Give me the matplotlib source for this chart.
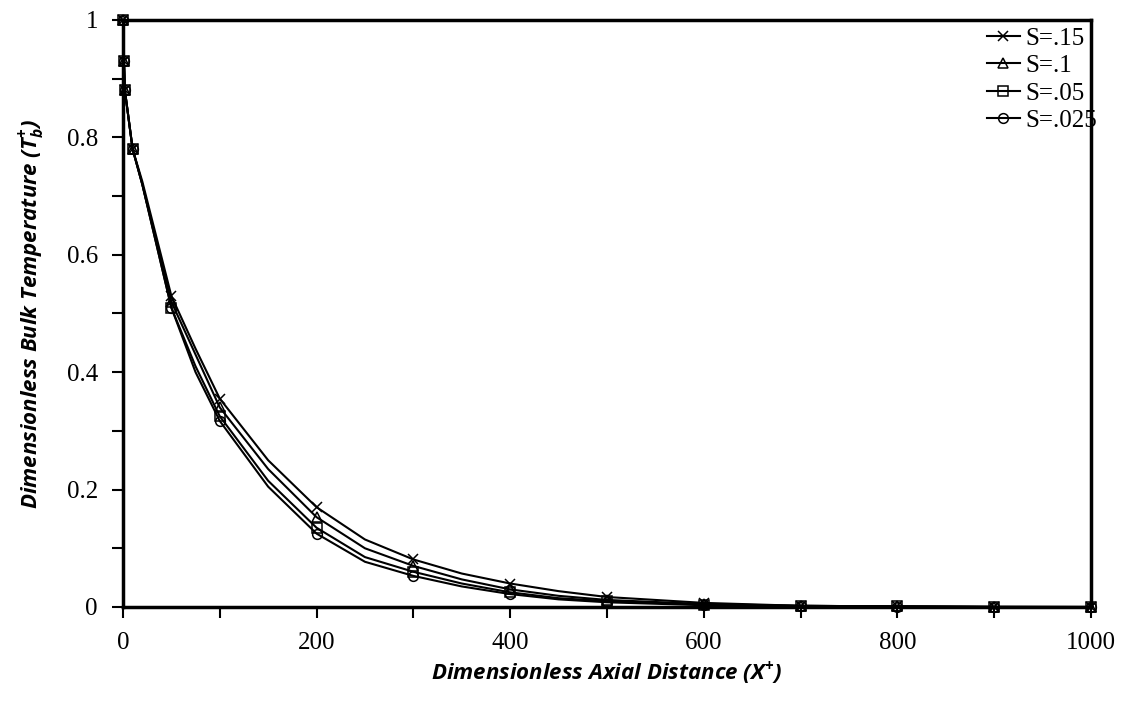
import numpy as np
import matplotlib.pyplot as plt
from matplotlib.ticker import MultipleLocator, FuncFormatter

# axial positions (every point is drawn on the line, markers only on some)
x = [0, 1, 2, 10, 20, 50, 75, 100, 150, 200, 250, 300, 350, 400, 450,
     500, 600, 700, 800, 900, 1000]
marked = [0, 1, 2, 3, 5, 7, 9, 11, 13, 15, 16, 17, 18, 19, 20]

tb_015 = [1.0, 0.93, 0.88, 0.78, 0.725, 0.53, 0.44, 0.355, 0.25, 0.17, 0.115,
          0.081, 0.057, 0.040, 0.027, 0.017, 0.007, 0.002, 0.001, 0.0005, 0.0]
tb_010 = [1.0, 0.93, 0.88, 0.78, 0.72, 0.52, 0.43, 0.34, 0.235, 0.153, 0.10,
          0.070, 0.047, 0.030, 0.019, 0.012, 0.005, 0.002, 0.001, 0.0, 0.0]
tb_005 = [1.0, 0.93, 0.88, 0.78, 0.72, 0.51, 0.41, 0.325, 0.215, 0.135, 0.085,
          0.060, 0.040, 0.025, 0.015, 0.010, 0.004, 0.002, 0.001, 0.0, 0.0]
tb_0025 = [1.0, 0.93, 0.88, 0.78, 0.72, 0.51, 0.40, 0.317, 0.205, 0.125, 0.077,
           0.053, 0.035, 0.022, 0.013, 0.008, 0.003, 0.001, 0.0005, 0.0, 0.0]

series = [("S=.15", tb_015, "x"), ("S=.1", tb_010, "^"),
          ("S=.05", tb_005, "s"), ("S=.025", tb_0025, "o")]

plt.rcParams['mathtext.fontset'] = 'custom'
plt.rcParams['mathtext.rm'] = 'Open Sans:italic:bold'
plt.rcParams['mathtext.it'] = 'Open Sans:italic:bold'
plt.rcParams['mathtext.bf'] = 'Open Sans:italic:bold'

fig = plt.figure(figsize=(11.3, 7.04), dpi=100)
ax = fig.add_axes([0.1088, 0.1378, 0.8567, 0.8338])

for name, y, m in series:
    ax.plot(x, y, color='black', lw=1.5, marker=m, markevery=marked,
            markersize=7, markerfacecolor='none', markeredgecolor='black',
            markeredgewidth=1.1, label=name, clip_on=False)

ax.set_xlim(0, 1000)
ax.set_ylim(0, 1)
ax.xaxis.set_major_locator(MultipleLocator(200))
ax.xaxis.set_minor_locator(MultipleLocator(100))
ax.yaxis.set_major_locator(MultipleLocator(0.2))
ax.yaxis.set_minor_locator(MultipleLocator(0.1))
ax.yaxis.set_major_formatter(FuncFormatter(lambda v, p: f'{v:.1f}'.rstrip('0').rstrip('.') if v > 1e-9 else '0'))
ax.tick_params(which='both', direction='out', width=1.5, length=8,
               labelsize=18, pad=10)
for lab in ax.get_xticklabels() + ax.get_yticklabels():
    lab.set_family('Liberation Serif')
for sp in ax.spines.values():
    sp.set_linewidth(2.5)

ax.set_xlabel(r'Dimensionless Axial Distance (X$^{+}$)',
              family='Open Sans', style='italic', weight='bold', fontsize=16,
              labelpad=4)
ax.set_ylabel(r'Dimensionless Bulk Temperature (T$_{b}^{+}$)',
              family='Open Sans', style='italic', weight='bold', fontsize=16,
              labelpad=14)

leg = ax.legend(loc='upper right', bbox_to_anchor=(1.03, 1.026), frameon=False,
                prop={'family': 'Liberation Serif', 'size': 18},
                handlelength=1.3, handletextpad=0.25, labelspacing=0.2)

fig.savefig('out.png', dpi=100)
